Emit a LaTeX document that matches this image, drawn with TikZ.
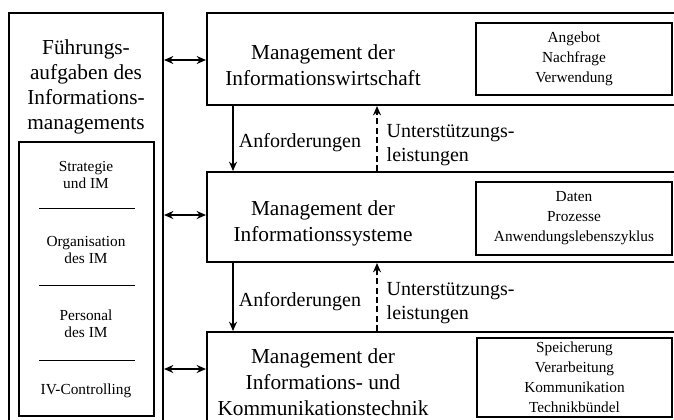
\documentclass[tikz,border=0pt]{standalone}
\usepackage{fontspec}
\setmainfont{Liberation Serif}
\usetikzlibrary{arrows.meta,fit}

\tikzset{
    obox/.style={draw, line width=1.5pt, inner sep=0pt},
    ibox/.style={draw, line width=0.9pt, inner sep=0pt},
    bigtxt/.style={align=center, font=\fontsize{16}{19.5}\selectfont},
    midtxt/.style={align=left, font=\fontsize{15}{17.5}\selectfont},
    smalltxt/.style={align=center, font=\fontsize{11.5}{15}\selectfont},
    lefttxt/.style={align=center, font=\fontsize{11.5}{12.8}\selectfont},
    dblarr/.style={{Stealth[length=7pt,width=6pt]}-{Stealth[length=7pt,width=6pt]}, line width=1.3pt},
    reqarr/.style={-{Stealth[length=7pt,width=6pt]}, line width=1.2pt},
    suparr/.style={-{Stealth[length=7pt,width=6pt]}, line width=1.2pt, dash pattern=on 4.5pt off 2.5pt}
}

\begin{document}
\begin{tikzpicture}[x=0.75pt, y=-0.75pt]
    \useasboundingbox (0,0) rectangle (674,419);
    \clip (0,0) rectangle (674,419);

    % left column
    \node[obox, fit={(9,13) (163,440)}] (lb) {};
    \node[ibox, fit={(19,142) (154,416)}] (lin) {};
    \node[bigtxt, font=\fontsize{16}{18.75}\selectfont] (ftitle) at (86,87)
        {Führungs-\\aufgaben des\\Informations-\\managements};
    \node[lefttxt] (strat) at (86,175) {Strategie\\und IM};
    \node[lefttxt] (orga) at (86,250) {Organisation\\des IM};
    \node[lefttxt] (pers) at (86,324) {Personal\\des IM};
    \node[lefttxt] (ivc) at (86,391) {IV-Controlling};
    \foreach \y in {208, 285, 360} {
        \draw[line width=0.7pt] (39,\y) -- (135,\y);
    }

    % right column
    \node[obox, fit={(207,13) (690,105)}] (iw) {};
    \node[obox, fit={(207,172) (690,262)}] (is) {};
    \node[obox, fit={(207,332) (690,430)}] (ik) {};

    \node[bigtxt] (iwt) at (323,65) {Management der\\Informationswirtschaft};
    \node[bigtxt] (ist) at (323,223) {Management der\\Informationssysteme};
    \node[bigtxt] (ikt) at (323,382) {Management der\\Informations- und\\Kommunikationstechnik};

    \node[ibox, fit={(476,23) (672,95)}] (iwd) {};
    \node[ibox, fit={(476,182) (672,255)}] (isd) {};
    \node[ibox, fit={(477,338) (672,417)}] (ikd) {};
    \node[smalltxt] at (iwd) {Angebot\\Nachfrage\\Verwendung};
    \node[smalltxt] at (isd) {Daten\\Prozesse\\Anwendungslebenszyklus};
    \node[smalltxt] at (ikd) {Speicherung\\Verarbeitung\\Kommunikation\\Technikbündel};

    % connections
    \draw[dblarr] (lb.east |- 0,60) -- (iw.west |- 0,60);
    \draw[dblarr] (lb.east |- 0,215) -- (is.west |- 0,215);
    \draw[dblarr] (lb.east |- 0,369) -- (ik.west |- 0,369);

    \draw[reqarr] (iw.south -| 233,0) -- (is.north -| 233,0);
    \draw[suparr] (is.north -| 377,0) -- (iw.south -| 377,0);
    \draw[reqarr] (is.south -| 233,0) -- (ik.north -| 233,0);
    \draw[suparr] (ik.north -| 377,0) -- (is.south -| 377,0);

    \node[midtxt] (anf1) at (300,143) {Anforderungen};
    \node[midtxt, anchor=west] (uns1) at (382,145) {Unterstützungs-\\leistungen};
    \node[midtxt] (anf2) at (300,302) {Anforderungen};
    \node[midtxt, anchor=west] (uns2) at (382,303) {Unterstützungs-\\leistungen};
\end{tikzpicture}
\end{document}
